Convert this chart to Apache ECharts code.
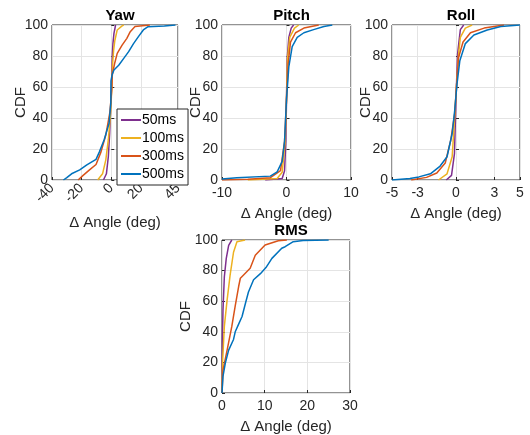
<!DOCTYPE html>
<html>
<head>
<meta charset="utf-8">
<script src="https://cdn.jsdelivr.net/npm/echarts@6/dist/echarts.min.js"></script>
<style>
  html, body { margin: 0; padding: 0; background: #fff; }
  #chart { width: 530px; height: 435px; }
</style>
</head>
<body>
<div id="chart"></div>
<script>
// CDF of angle error for each prediction horizon: [delta angle (deg), CDF (%)]
const horizons = ['50ms', '100ms', '300ms', '500ms'];
const colors = ['#7E2F8E', '#EDB120', '#D95319', '#0072BD'];

const yaw50 = [[-5.3,0],[-3.3,4],[-2,15],[-1.1,30],[-0.2,52],[0.4,70],[0.7,81],[1.1,88],[1.8,94.6],[2.9,100]];
const yaw100 = [[-9.2,0],[-5.9,4],[-3.7,13],[-2,26],[-0.4,44],[0.4,61],[0.8,74],[1.6,84],[2.4,90],[4,96.8],[7.3,99.4],[8.4,100]];
const yaw300 = [[-22.4,0],[-19,3],[-14.7,6.5],[-10.3,10],[-7,18],[-3.7,29],[-0.9,44],[0.3,58],[0.7,68],[2.2,75],[4,81.7],[7.3,87],[10.5,91.4],[12.8,95.7],[16,99],[26,100]];
const yaw500 = [[-32.3,0],[-30,1.5],[-26.8,4],[-21.3,6.5],[-16.5,9.7],[-10.3,13.3],[-8.1,18],[-4.8,26],[-1.5,36.6],[-0.3,50],[-0.2,64],[0.6,68],[1.8,71],[5,74],[8.4,78.5],[11.7,82.8],[15,88],[18.3,92.5],[21.6,96.8],[24.8,98.9],[35.8,99.3],[43.3,100]];

const pitch50 = [[-3.3,0],[-0.67,1],[-0.3,6],[-0.1,25],[0,52],[0.1,78],[0.36,92],[0.73,98],[1.1,100]];
const pitch100 = [[-6,0],[-1.45,1],[-0.67,5],[-0.2,25],[0,52],[0.15,78],[0.5,92],[1.24,98],[1.9,100]];
const pitch300 = [[-10,0],[-6,0.5],[-2.5,1.5],[-0.93,6],[-0.3,25],[0,52],[0.26,75],[0.62,89],[1.4,95],[2.7,98],[5,100]];
const pitch500 = [[-10,0.6],[-7.7,1.5],[-2.5,2.5],[-1.45,5.2],[-0.67,12],[-0.3,25],[0,52],[0.36,73],[0.88,86],[1.66,92],[2.7,95],[4.2,97],[5.8,99],[7.1,100]];

const roll50 = [[-0.76,0],[-0.35,3],[-0.12,17],[0,52],[0.12,81],[0.34,97],[0.6,100]];
const roll100 = [[-1.37,0],[-0.7,4],[-0.3,15],[-0.1,41],[0.05,62],[0.2,81],[0.34,92],[0.73,98],[1.26,100]];
const roll300 = [[-3.5,0],[-2.3,1.7],[-1.5,4.5],[-0.84,11],[-0.4,26],[-0.1,43],[0.05,62],[0.2,79],[0.55,89],[1.13,95],[2.2,98],[3.75,100]];
const roll500 = [[-5,0],[-3.6,1],[-2.9,2],[-2,4],[-1.24,9],[-0.7,15],[-0.3,30],[-0.1,45],[0.08,62],[0.3,77],[0.73,88],[1.4,93.5],[2.44,96.8],[3.5,99],[5,100]];

const rms50 = [[0,0],[0.08,32.6],[0.23,54],[0.55,76],[1,88],[1.56,96.5],[2.3,100]];
const rms100 = [[0,0],[0.16,21.7],[0.55,43.5],[1.17,60],[1.9,77],[2.7,92],[3.5,98.9],[5.4,100]];
const rms300 = [[0,0],[0.23,15],[1.2,28],[2.3,43.5],[3.1,57],[3.9,69.6],[4.3,75],[5,77],[6.6,81.5],[7.8,90],[10.1,96.7],[13.2,99.5],[15.2,100]];
const rms500 = [[0,0],[0.23,10.9],[0.78,19.6],[1.56,28],[2.7,35],[3.1,40],[3.9,45],[4.7,50],[5.5,58.7],[6.2,66],[7.4,74],[9,78],[10.3,82],[11.7,88],[14,94.6],[14.8,95.6],[16.7,98.9],[19,99.6],[25,100]];

const panelTitles = ['Yaw', 'Pitch', 'Roll', 'RMS'];
const yawTicks = [-40, -20, 0, 20, 45];
const pitchTicks = [-10, 0, 10];
const rollTicks = [-5, -3, 0, 3, 5];
const rmsTicks = [0, 10, 20, 30];
const xName = 'Δ Angle (deg)';
const yName = 'CDF';

const panelData = [
  [yaw50, yaw100, yaw300, yaw500],
  [pitch50, pitch100, pitch300, pitch500],
  [roll50, roll100, roll300, roll500],
  [rms50, rms100, rms300, rms500]
];
const panelTicks = [yawTicks, pitchTicks, rollTicks, rmsTicks];

// panel boxes in pixels: [left, top, width, height]
const boxes = [
  [52, 25, 126, 155],
  [222, 25, 129, 155],
  [392, 25, 128, 155],
  [222, 240, 128, 153]
];
const yNameGaps = [24, 19, 19, 29];

const FONT = 'Liberation Sans, Arial, sans-serif';
const ink = '#262626';

const grids = boxes.map(b => ({
  left: b[0], top: b[1], width: b[2], height: b[3],
  show: true, borderColor: ink, borderWidth: 1, backgroundColor: '#fff'
}));

const xAxes = panelTicks.map((ticks, i) => ({
  type: 'value',
  gridIndex: i,
  min: ticks[0],
  max: ticks[ticks.length - 1],
  name: xName,
  nameLocation: 'middle',
  nameGap: i === 0 ? 35 : 26,
  nameMoveOverlap: false,
  nameTextStyle: { fontFamily: FONT, fontSize: 15, color: ink },
  axisLine: { show: false },
  axisTick: { show: true, inside: true, length: 3, lineStyle: { color: ink }, customValues: ticks },
  axisLabel: {
    fontFamily: FONT, fontSize: 14, color: ink, margin: 6,
    rotate: i === 0 ? 45 : 0,
    customValues: ticks,
    showMinLabel: true, showMaxLabel: true
  },
  splitLine: { show: true, lineStyle: { color: '#e4e4e4', width: 1 } }
}));

const yAxes = boxes.map((b, i) => ({
  type: 'value',
  gridIndex: i,
  min: 0, max: 100, interval: 20,
  name: yName,
  nameLocation: 'middle',
  nameGap: yNameGaps[i],
  nameMoveOverlap: false,
  nameTextStyle: { fontFamily: FONT, fontSize: 15, color: ink },
  axisLine: { show: false },
  axisTick: { show: true, inside: true, length: 3, lineStyle: { color: ink } },
  axisLabel: { fontFamily: FONT, fontSize: 14, color: ink, margin: 4 },
  splitLine: { show: true, lineStyle: { color: '#e4e4e4', width: 1 } }
}));

const series = [];
panelData.forEach((curves, p) => {
  curves.forEach((data, k) => {
    series.push({
      name: horizons[k],
      type: 'line',
      xAxisIndex: p,
      yAxisIndex: p,
      data: data,
      showSymbol: false,
      symbol: 'none',
      lineStyle: { color: colors[k], width: 1.5 },
      itemStyle: { color: colors[k] },
      emphasis: { disabled: true },
      animation: false,
      clip: true
    });
  });
});

const titles = panelTitles.map((t, i) => ({
  text: t,
  left: boxes[i][0] + boxes[i][2] / 2,
  top: boxes[i][1] - 22,
  textAlign: 'center',
  textStyle: { fontFamily: FONT, fontSize: 15, fontWeight: 'bold', color: '#000' }
}));

const chart = echarts.init(document.getElementById('chart'), null, { renderer: 'canvas' });
chart.setOption({
  backgroundColor: '#fff',
  animation: false,
  title: titles,
  grid: grids,
  xAxis: xAxes,
  yAxis: yAxes,
  legend: {
    data: horizons,
    orient: 'vertical',
    left: 117,
    top: 109,
    padding: [3, 4, 3, 4],
    itemGap: 2,
    itemWidth: 20,
    itemHeight: 2,
    icon: 'rect',
    backgroundColor: '#fff',
    borderColor: ink,
    borderWidth: 1,
    borderRadius: 0,
    selectedMode: false,
    textStyle: { fontFamily: FONT, fontSize: 14, color: '#000', lineHeight: 16, padding: [0, 0, 0, -4] }
  },
  series: series
});
</script>
</body>
</html>
